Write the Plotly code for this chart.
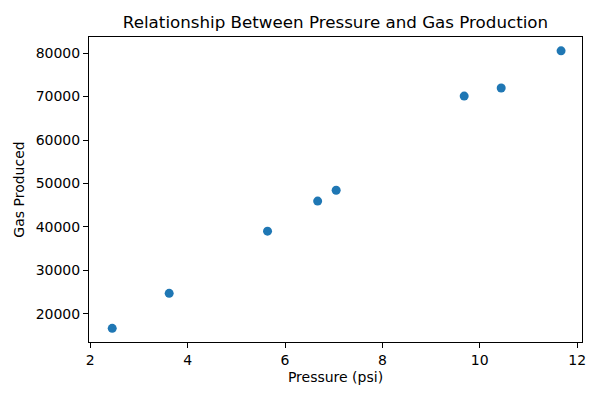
import plotly.graph_objects as go

# pressure readings and the gas produced at each one
pressure_psi = [2.45, 3.62, 5.64, 6.67, 7.05, 9.68, 10.44, 11.67]
gas_produced = [16700, 24750, 39050, 45950, 48450, 70100, 71950, 80500]

x_ticks = [2, 4, 6, 8, 10, 12]
y_ticks = [20000, 30000, 40000, 50000, 60000, 70000, 80000]

fig = go.Figure(go.Scatter(
    x=pressure_psi, y=gas_produced, mode="markers",
    marker=dict(color="#1f77b4", size=9),
))

axis_style = dict(
    showline=True, linecolor="black", linewidth=1, mirror=True,
    ticks="outside", ticklen=5, tickcolor="black", tickwidth=1,
    showgrid=False, zeroline=False, automargin=False,
    tickfont=dict(size=14, color="black"),
)

fig.update_xaxes(axis_style, range=[1.973, 12.1], tickvals=x_ticks,
                 title=dict(text="Pressure (psi)", font=dict(size=14, color="black"), standoff=5))
fig.update_yaxes(axis_style, range=[13560, 83680], tickvals=y_ticks,
                 ticktext=[str(v) for v in y_ticks],
                 title=dict(text="Gas Produced", font=dict(size=14, color="black"), standoff=7))

fig.update_layout(
    width=600, height=400,
    margin=dict(l=89, r=18, t=37, b=58),
    plot_bgcolor="white", paper_bgcolor="white",
    font=dict(family="DejaVu Sans", color="black"),
    title=dict(text="Relationship Between Pressure and Gas Production",
               x=0.5, xref="paper", y=0.945, yanchor="middle",
               font=dict(size=16.7, color="black")),
    showlegend=False,
)

# drop the browser's default page margin so the figure sits at 0,0
fig.write_html("out.html", config={"displayModeBar": False},
               post_script="document.body.style.margin='0';")
